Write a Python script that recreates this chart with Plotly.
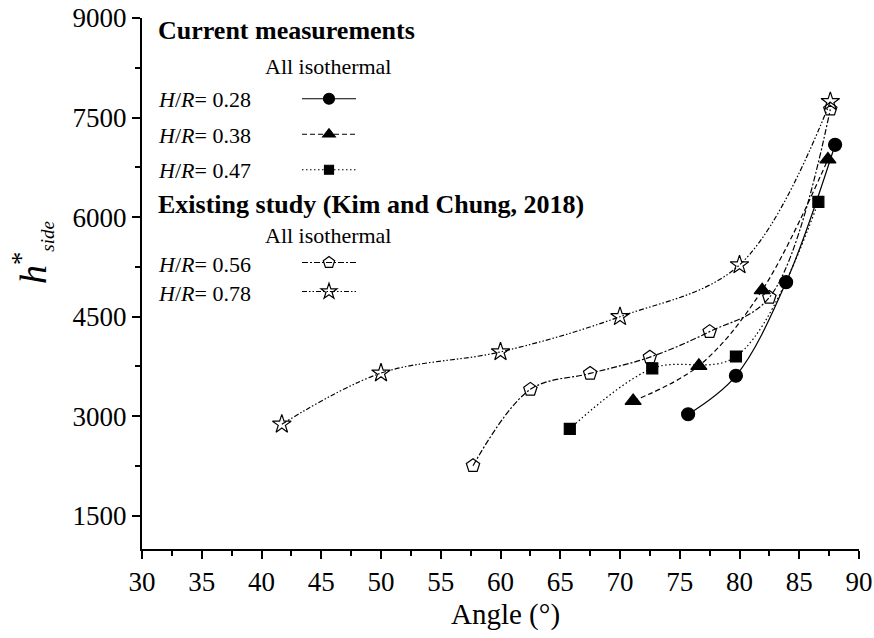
import plotly.graph_objects as go

# ---- data ----
angle_028 = [75.7, 79.7, 83.9, 88.0]
h_028 = [3030, 3610, 5020, 7090]
angle_038 = [71.1, 76.6, 81.9, 87.4]
h_038 = [3230, 3760, 4900, 6870]
angle_047 = [65.8, 72.7, 79.7, 86.6]
h_047 = [2810, 3720, 3900, 6230]
angle_056 = [57.7, 62.5, 67.5, 72.5, 77.5, 82.5, 87.6]
h_056 = [2255, 3405, 3645, 3890, 4275, 4790, 7625]
angle_078 = [41.7, 50.0, 60.0, 70.0, 80.0, 87.6]
h_078 = [2880, 3650, 3970, 4500, 5280, 7740]

x_ticks = [30, 35, 40, 45, 50, 55, 60, 65, 70, 75, 80, 85, 90]
y_ticks = [1500, 3000, 4500, 6000, 7500, 9000]

W, H = 874, 638
L, R, T, B = 142, 15, 18, 89
PW, PH = W - L - R, H - T - B

def px(xp):
    return (xp - L) / PW

def py(yp):
    return (H - B - yp) / PH

FONT = "Liberation Serif"

# (x, y, symbol, data marker size, legend marker size, dash, legend)
series = [
    (angle_028, h_028, "circle", 13, 11, "solid", "legend"),
    (angle_038, h_038, "triangle-up", 14, 11, "5px,3px", "legend"),
    (angle_047, h_047, "square", 11, 9, "1.5px,2.5px", "legend"),
    (angle_056, h_056, "pentagon-open", 14, 12, "6px,2px,2px,2px", "legend2"),
    (angle_078, h_078, "star-open", 14, 12, "5px,2px,1.5px,2px,1.5px,2px", "legend2"),
]

fig = go.Figure()
for xs, ys, sym, sz, lsz, dash, lg in series:
    fig.add_trace(go.Scatter(
        x=xs, y=ys, mode="lines+markers", showlegend=False,
        line=dict(color="black", width=1.2, dash=dash, shape="spline", smoothing=1.0),
        marker=dict(symbol=sym, size=sz, color="black",
                    line=dict(color="black", width=1.2)),
    ))
    # legend-only entry (no data) with the smaller legend symbol
    fig.add_trace(go.Scatter(
        x=[None], y=[None], mode="lines+markers", name=" ",
        line=dict(color="black", width=1.2, dash=dash),
        marker=dict(symbol=sym, size=lsz, color="black",
                    line=dict(color="black", width=1.2)),
        legend=lg, showlegend=True,
    ))

axis_common = dict(
    showgrid=False, zeroline=False, showline=True, linecolor="black", linewidth=2,
    ticks="outside", ticklen=8, tickwidth=2, tickcolor="black", automargin=False,
    tickfont=dict(family=FONT, size=27, color="black"),
)

fig.update_xaxes(range=[30, 90], tickvals=x_ticks,
                 minor=dict(ticks="outside", ticklen=5, tickwidth=2, tickcolor="black", dtick=2.5, tick0=30),
                 **axis_common)
fig.update_yaxes(range=[1000, 9000], tickvals=y_ticks,
                 minor=dict(ticks="outside", ticklen=5, tickwidth=2, tickcolor="black", dtick=750, tick0=1500),
                 **axis_common)

ann = []
def txt(t, xp, yp, size=22, bold=False):
    ann.append(dict(text=("<b>%s</b>" % t) if bold else t, x=px(xp), y=py(yp),
                    xref="paper", yref="paper", xanchor="left", yanchor="middle",
                    showarrow=False, font=dict(family=FONT, size=size, color="black")))

txt("Current measurements", 156, 30, 26, True)
txt("All isothermal", 263, 66)
txt("<i>H</i>/<i>R</i>= 0.28", 156, 99)
txt("<i>H</i>/<i>R</i>= 0.38", 156, 135)
txt("<i>H</i>/<i>R</i>= 0.47", 156, 170)
txt("Existing study (Kim and Chung, 2018)", 156, 204, 26, True)
txt("All isothermal", 263, 236)
txt("<i>H</i>/<i>R</i>= 0.56", 156, 264)
txt("<i>H</i>/<i>R</i>= 0.78", 156, 293)

# y-axis title
ann.append(dict(text="<i>h</i><sup>*</sup><sub><i><span style='font-size:19px'>side</span></i></sub>",
                x=px(32), y=py(252), xref="paper", yref="paper",
                xanchor="center", yanchor="middle", textangle=-90, showarrow=False,
                font=dict(family=FONT, size=38, color="black")))
# x-axis title
ann.append(dict(text="Angle (°)", x=px(505), y=py(614), xref="paper", yref="paper",
                xanchor="center", yanchor="middle", showarrow=False,
                font=dict(family=FONT, size=29, color="black")))

fig.update_layout(
    width=W, height=H,
    margin=dict(l=L, r=R, t=T, b=B),
    paper_bgcolor="white", plot_bgcolor="white",
    annotations=ann,
    legend=dict(x=px(297), y=py(76), xanchor="left", yanchor="top",
                bgcolor="rgba(0,0,0,0)", itemwidth=54, font=dict(size=25),
                tracegroupgap=0),
    legend2=dict(x=px(297), y=py(243), xanchor="left", yanchor="top",
                 bgcolor="rgba(0,0,0,0)", itemwidth=54, font=dict(size=20),
                 tracegroupgap=0),
)

fig.write_html("out.html")
